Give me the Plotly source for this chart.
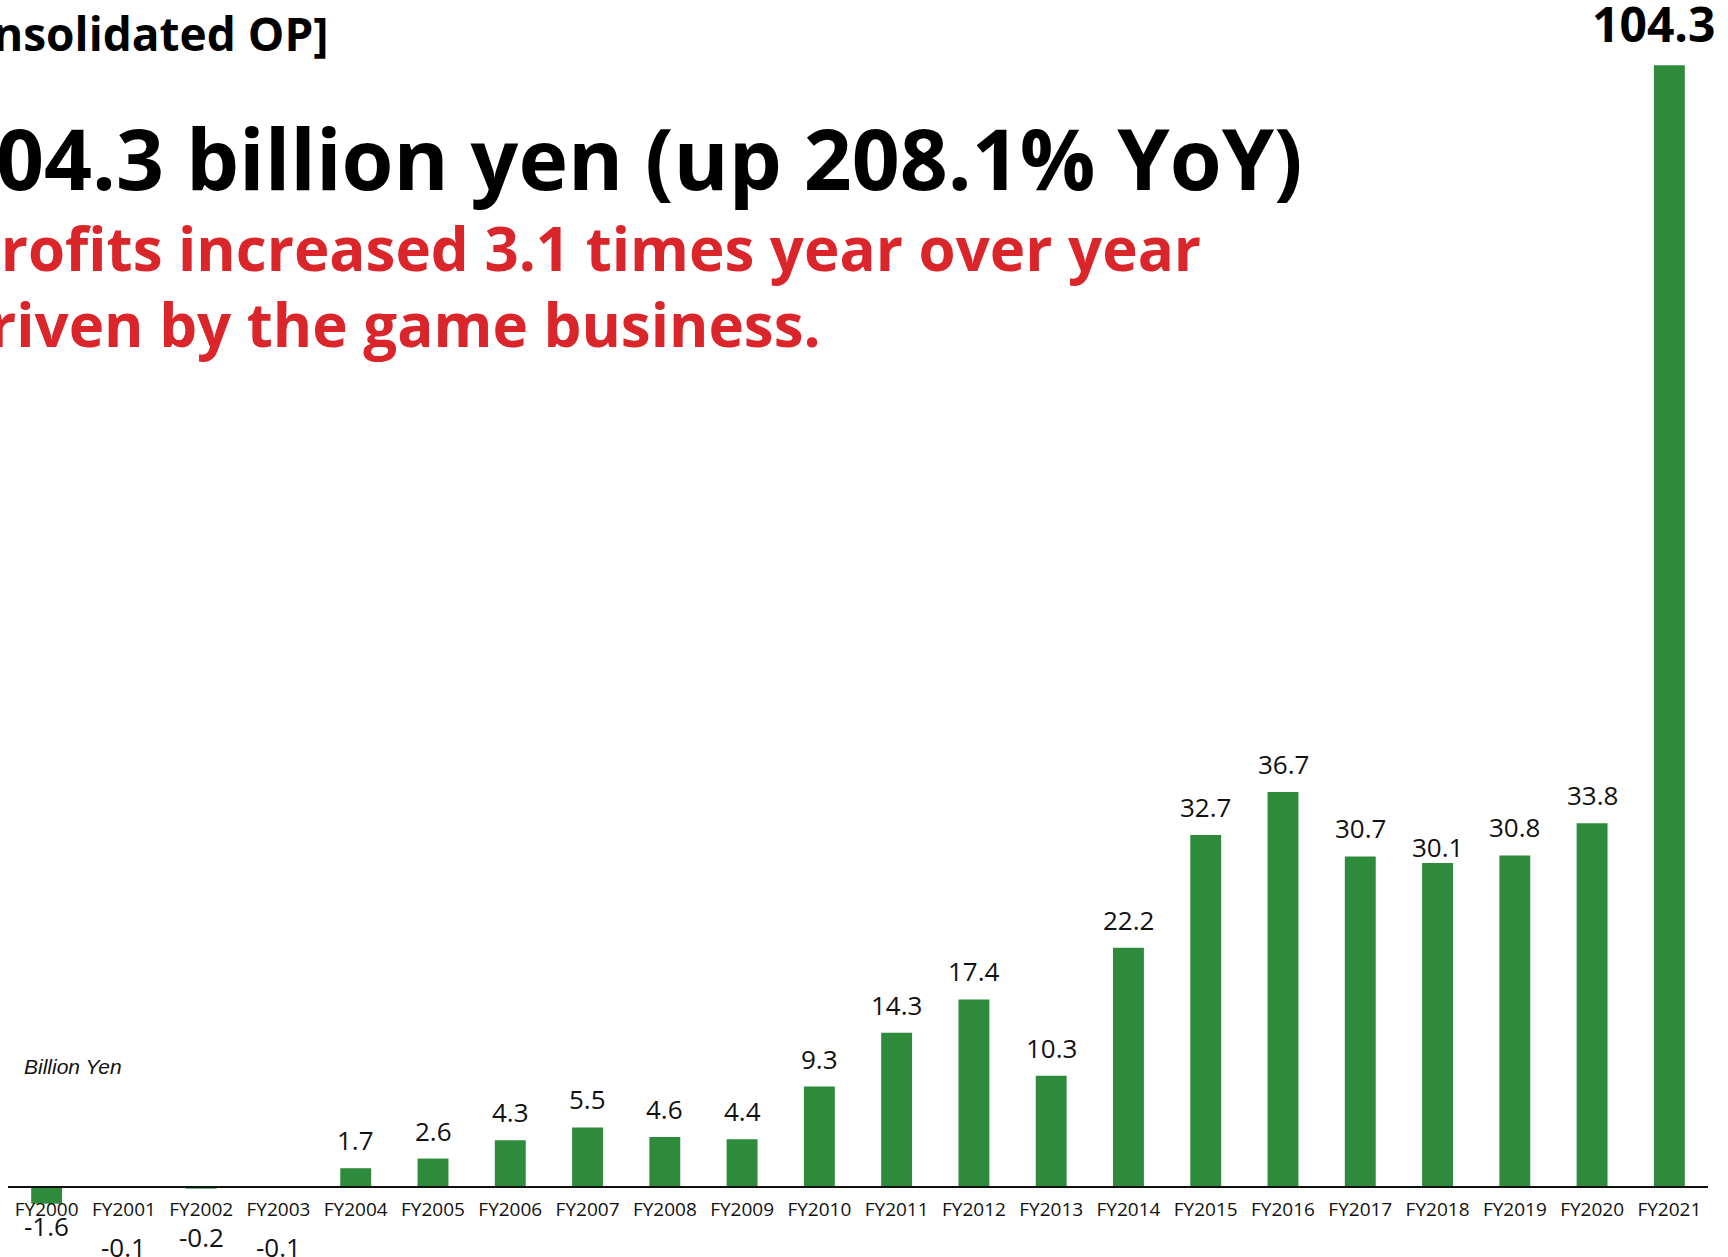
import plotly.graph_objects as go

# ---- data -----------------------------------------------------------------
fiscal_years = [
    "FY2000", "FY2001", "FY2002", "FY2003", "FY2004", "FY2005", "FY2006",
    "FY2007", "FY2008", "FY2009", "FY2010", "FY2011", "FY2012", "FY2013",
    "FY2014", "FY2015", "FY2016", "FY2017", "FY2018", "FY2019", "FY2020",
    "FY2021",
]
operating_profit = [
    -1.6, -0.1, -0.2, -0.1, 1.7, 2.6, 4.3, 5.5, 4.6, 4.4, 9.3, 14.3, 17.4,
    10.3, 22.2, 32.7, 36.7, 30.7, 30.1, 30.8, 33.8, 104.3,
]
group_tick_years = [-0.5, 3.5, 7.5, 11.5, 15.5, 19.5]  # boundary ticks every 4 years

headline_label = "[Consolidated OP]"
headline_main = "104.3 billion yen (up 208.1% YoY)"
headline_sub = [
    "Profits increased 3.1 times year over year",
    "driven by the game business.",
]
unit_label = "Billion Yen"

# ---- geometry / style -----------------------------------------------------
W, H = 1728, 1257
ML, MR = 8, 20
PX_PER_UNIT = 10.75
ZERO_PX = 1186.5          # zero line, pixels from the top of the page
GREEN = "#2E8B3B"
RED = "#DA252A"
HEAD_FONT = "Open Sans"
NUM_FONT = "Open Sans"

LABEL_LIFT = 28                    # label centre above the bar top (pixels)
label_lift_override = {"FY2018": 16}
neg_label_drop = [22, 59, 48, 59]  # label centre below the bar end (pixels)

plot_w = W - ML - MR


def px_x(px):
    return (px - ML) / plot_w


def px_y(px):
    return 1 - px / H


y_range = [-(H - ZERO_PX) / PX_PER_UNIT, ZERO_PX / PX_PER_UNIT]
axis_pos = (H - ZERO_PX) / H
last = len(operating_profit) - 1

fig = go.Figure()
fig.add_trace(
    go.Bar(
        x=fiscal_years,
        y=operating_profit,
        marker=dict(color=GREEN, line=dict(width=0)),
        cliponaxis=False,
        hoverinfo="skip",
    )
)

annotations = []
neg_k = 0
for i, (year, v) in enumerate(zip(fiscal_years, operating_profit)):
    if i == last:
        # highlighted latest-year value
        annotations.append(
            dict(
                x=year, y=v, xref="x", yref="y", text=f"{v:.1f}",
                showarrow=False, xanchor="center", yanchor="bottom",
                xshift=-16, yshift=7,
                font=dict(family=HEAD_FONT, size=48, color="#000", weight=700),
            )
        )
    elif v < 0:
        annotations.append(
            dict(
                x=year, y=v, xref="x", yref="y", text=f"{v:.1f}",
                showarrow=False, xanchor="center", yanchor="middle",
                yshift=-neg_label_drop[neg_k],
                font=dict(family=NUM_FONT, size=26, color="#111"),
            )
        )
        neg_k += 1
    else:
        annotations.append(
            dict(
                x=year, y=v, xref="x", yref="y", text=f"{v:.1f}",
                showarrow=False, xanchor="center", yanchor="middle",
                yshift=label_lift_override.get(year, LABEL_LIFT),
                font=dict(family=NUM_FONT, size=26, color="#111"),
            )
        )

# headline block
annotations += [
    dict(
        x=px_x(331), y=px_y(33), xref="paper", yref="paper",
        text=headline_label, showarrow=False, xanchor="right", yanchor="middle",
        font=dict(family=HEAD_FONT, size=46, color="#000", weight=700),
    ),
    dict(
        x=px_x(1305), y=px_y(157), xref="paper", yref="paper",
        text=headline_main, showarrow=False, xanchor="right", yanchor="middle",
        font=dict(family=HEAD_FONT, size=84, color="#000", weight=700),
    ),
    dict(
        x=px_x(1203), y=px_y(248), xref="paper", yref="paper",
        text=headline_sub[0], showarrow=False, xanchor="right", yanchor="middle",
        font=dict(family=HEAD_FONT, size=60, color=RED, weight=700),
    ),
    dict(
        x=px_x(823), y=px_y(324), xref="paper", yref="paper",
        text=headline_sub[1], showarrow=False, xanchor="right", yanchor="middle",
        font=dict(family=HEAD_FONT, size=60, color=RED, weight=700),
    ),
    dict(
        x=px_x(22), y=px_y(1066), xref="paper", yref="paper",
        text=unit_label, showarrow=False, xanchor="left", yanchor="middle",
        font=dict(family="Liberation Sans", size=21, color="#111", style="italic"),
    ),
]

fig.update_layout(
    width=W,
    height=H,
    margin=dict(l=ML, r=MR, t=0, b=0, pad=0),
    paper_bgcolor="white",
    plot_bgcolor="white",
    showlegend=False,
    bargap=0.6,
    annotations=annotations,
    xaxis=dict(
        type="category",
        range=[-0.5, len(fiscal_years) - 0.5],
        anchor="free",
        position=axis_pos,
        showline=True,
        linecolor="#111",
        linewidth=1.5,
        ticks="",
        ticklabelstandoff=6,
        showgrid=False,
        zeroline=False,
        tickfont=dict(family=NUM_FONT, size=19, color="#111"),
        fixedrange=True,
    ),
    xaxis2=dict(
        overlaying="x",
        range=[-0.5, len(fiscal_years) - 0.5],
        anchor="free",
        position=axis_pos,
        tickmode="array",
        tickvals=group_tick_years,
        ticks="inside",
        ticklen=6,
        tickwidth=1.5,
        tickcolor="#444",
        showticklabels=False,
        showline=False,
        showgrid=False,
        zeroline=False,
        fixedrange=True,
    ),
    yaxis=dict(
        range=y_range,
        visible=False,
        showgrid=False,
        zeroline=False,
        fixedrange=True,
    ),
)

fig.write_html("out.html", config={"displayModeBar": False})
